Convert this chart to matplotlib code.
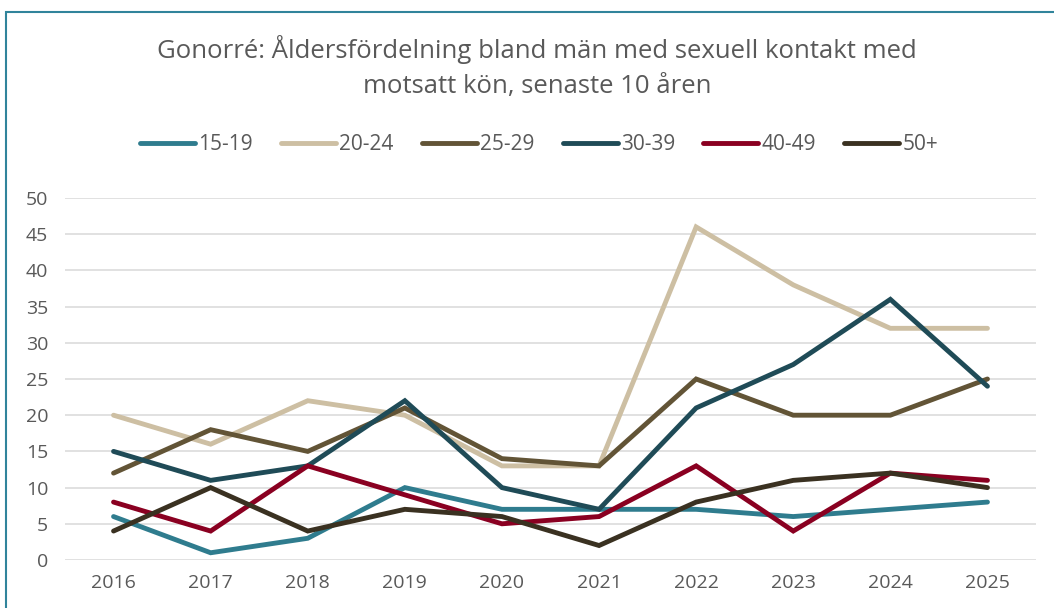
import matplotlib.pyplot as plt
from matplotlib.patches import Rectangle

plt.rcParams['font.family'] = ['Open Sans', 'DejaVu Sans']

years = ["2016", "2017", "2018", "2019", "2020", "2021", "2022", "2023", "2024", "2025"]
age_groups = ["15-19", "20-24", "25-29", "30-39", "40-49", "50+"]

v_15_19 = [6, 1, 3, 10, 7, 7, 7, 6, 7, 8]
v_20_24 = [20, 16, 22, 20, 13, 13, 46, 38, 32, 32]
v_25_29 = [12, 18, 15, 21, 14, 13, 25, 20, 20, 25]
v_30_39 = [15, 11, 13, 22, 10, 7, 21, 27, 36, 24]
v_40_49 = [8, 4, 13, 9, 5, 6, 13, 4, 12, 11]
v_50plus = [4, 10, 4, 7, 6, 2, 8, 11, 12, 10]

series = [v_15_19, v_20_24, v_25_29, v_30_39, v_40_49, v_50plus]
colors = ["#2F7C8E", "#CDBFA3", "#625436", "#1F4B57", "#8A0021", "#3A3121"]

W, H = 1054, 608
fig = plt.figure(figsize=(W / 100, H / 100), dpi=100)
ax = fig.add_axes([65 / W, (H - 560) / H, (1036 - 65) / W, (560 - 198) / H])

x = list(range(len(years)))
for label, vals, col in zip(age_groups, series, colors):
    ax.plot(x, vals, color=col, linewidth=3.5, label=label,
            solid_capstyle="round", solid_joinstyle="miter")

ax.set_xlim(-0.5, 9.5)
ax.set_ylim(0, 50)
ax.set_yticks(range(0, 51, 5))
ax.set_xticks(x)
ax.set_xticklabels(years)
ax.grid(axis="y", color="#D9D9D9", linewidth=1.1)
ax.set_axisbelow(True)
for s in ax.spines.values():
    s.set_visible(False)
ax.tick_params(length=0, labelsize=14, colors="#595959")
ax.tick_params(axis="y", pad=12)
ax.tick_params(axis="x", pad=10)

fig.text(537 / W, 1 - 50 / H, "Gonorré: Åldersfördelning bland män med sexuell kontakt med",
         ha="center", va="center", fontsize=18.5, color="#595959")
fig.text(537 / W, 1 - 87 / H, "motsatt kön, senaste 10 åren",
         ha="center", va="center", fontsize=18.5, color="#595959")

leg = fig.legend(loc="center", bbox_to_anchor=(539 / W, 1 - 145 / H), ncol=6,
                 frameon=False, fontsize=15, handlelength=2.65, handletextpad=0.15,
                 columnspacing=1.35, labelcolor="#595959")

# outer frame
fig.add_artist(Rectangle((6 / W, -0.2), 1.2, 1.2 - 12 / H, transform=fig.transFigure,
                         fill=False, edgecolor="#31849B", linewidth=1.5))

fig.savefig("out.png", dpi=100)
